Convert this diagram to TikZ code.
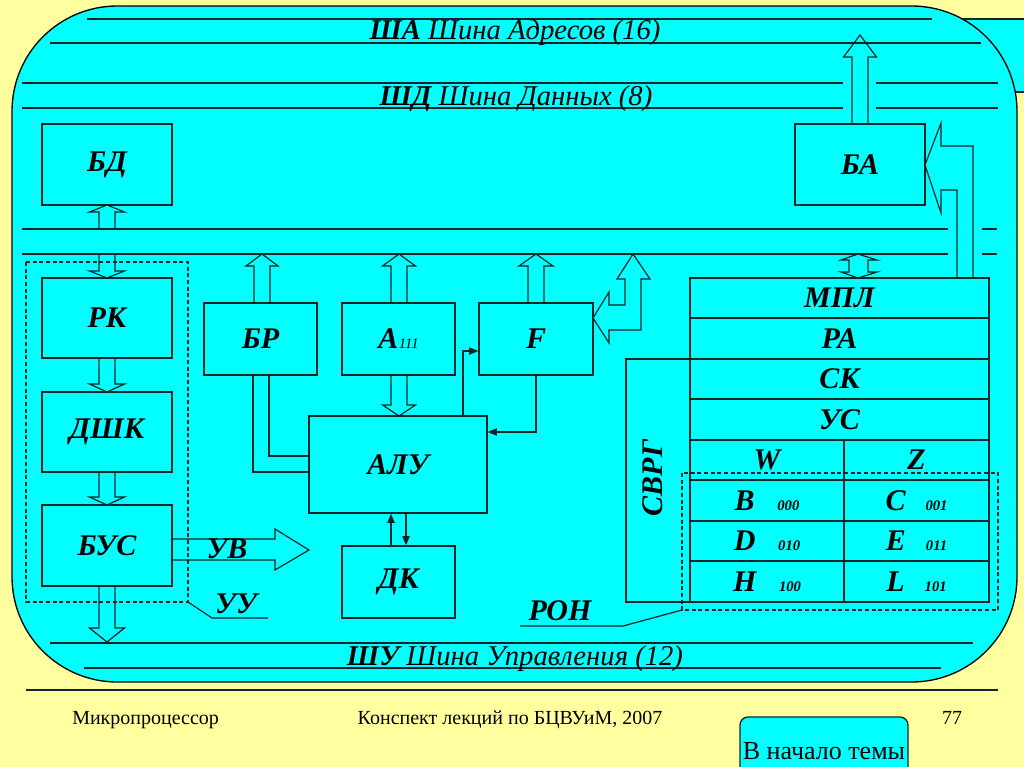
\documentclass[tikz,border=0pt]{standalone}
\usepackage{fontspec}
\setmainfont{Liberation Serif}
\usetikzlibrary{arrows.meta,calc}
\definecolor{bg}{HTML}{FFFF9F}
\definecolor{cy}{HTML}{00FFFF}
\definecolor{lc}{HTML}{0F2626}
\newcommand\lblfont{\bfseries\itshape\fontsize{22.5}{22.5}\selectfont}
\newcommand\smallnum{\bfseries\itshape\fontsize{11}{11}\selectfont}
\newcommand\bx[6]{\node[box,minimum width={(#4-#2)*0.75pt},minimum height={(#5-#3)*0.75pt}] (#1) at ({(#2+#4)/2},{(#3+#5)/2}) {#6};}
\newcommand\varrow[6]{\draw[barrow] (#1-#2,#4) -- (#1-#2,#5) -- (#1-#3,#5) -- (#1,#6) -- (#1+#3,#5) -- (#1+#2,#5) -- (#1+#2,#4);}
\begin{document}
\begin{tikzpicture}[x=0.75pt,y=-0.75pt,
  box/.style={draw=lc,line width=0.9pt,fill=cy,inner sep=0pt,font=\lblfont},
  bus/.style={draw=lc,line width=1.3pt},
  barrow/.style={draw=lc,line width=0.9pt,fill=cy,line join=miter},
  thinl/.style={draw=lc,line width=0.9pt},
  dsh/.style={draw=lc,line width=0.9pt,dash pattern=on 3pt off 2pt},
  tipa/.style={-{Triangle[length=7pt,width=5.5pt]}},
  lbl/.style={inner sep=0pt,font=\lblfont},
  title/.style={inner sep=0pt,anchor=base,font=\itshape\fontsize{21.5}{21.5}\selectfont},
  foot/.style={inner sep=0pt,anchor=base,font=\fontsize{15}{15}\selectfont}
]
\fill[bg] (0,0) rectangle (1024,767);
\useasboundingbox (0,0) rectangle (1024,767);
% right band behind the main panel
\draw[fill=cy,draw=lc,line width=1pt] (900,19) rectangle (1040,92);
% main panel
\draw[fill=cy,draw=black,line width=1pt,rounded corners=79pt] (12,6) rectangle (1017,682);

% block arrows
\varrow{860}{8}{16.5}{124}{57}{35}
\varrow{107}{8}{17.5}{229}{212}{205}
\varrow{107}{8}{17.5}{254}{271}{278}
\varrow{107}{8}{17.5}{358}{384}{392}
\varrow{107}{8}{17.5}{472}{497}{505}
\varrow{107}{8}{17.5}{586}{628}{642}
\varrow{262}{8}{16}{303}{266}{254}
\varrow{399}{8}{16.5}{303}{266}{254}
\varrow{399}{8}{16.5}{375}{405}{416}
\varrow{536}{8}{17}{303}{266}{254}
% MPL double arrow
\draw[barrow] (849,260) -- (841,260) -- (858,254) -- (877,260) -- (868,260) -- (868,272) -- (877,272) -- (858,278) -- (841,272) -- (849,272) -- cycle;
% F bent arrow
\draw[barrow] (593,318) -- (609,292) -- (609,305) -- (625,305) -- (625,279) -- (617,279) -- (633,254) -- (650,279) -- (641,279) -- (641,330) -- (609,330) -- (609,343) -- cycle;
% BA bent arrow
\draw[barrow] (925,165) -- (941,123) -- (941,146) -- (973,146) -- (973,278) -- (957,278) -- (957,190) -- (941,190) -- (941,213) -- cycle;
% UV arrow
\draw[barrow] (172,539) -- (275,539) -- (275,529) -- (309,550) -- (275,570) -- (275,560) -- (172,560);

% bus lines
\draw[bus] (87,19) -- (932,19);
\draw[bus] (50,43) -- (981,43);
\draw[bus] (22,83) -- (843,83);
\draw[bus] (876,83) -- (998,83);
\draw[bus] (22,108) -- (843,108);
\draw[bus] (876,108) -- (998,108);
\draw[bus] (22,229) -- (948,229);
\draw[bus] (982,229) -- (997,229);
\draw[bus] (22,254) -- (948,254);
\draw[bus] (982,254) -- (997,254);
\draw[bus] (50,643) -- (973,643);
\draw[bus] (84,668) -- (941,668);

\node[title] (sha) at (515,40) {\textbf{ША} Шина Адресов (16)};
\node[title] (shd) at (516,105) {\textbf{ШД} Шина Данных (8)};
\node[title] (shu) at (515,665) {\textbf{ШУ} Шина Управления (12)};

% boxes
\bx{BD}{42}{124}{172}{205}{БД}
\bx{RK}{42}{278}{172}{358}{РК}
\bx{DSK}{42}{392}{172}{472}{ДШК}
\bx{BUS}{42}{505}{172}{586}{БУС}
\bx{BR}{204}{303}{317}{375}{БР}
\bx{A}{342}{303}{455}{375}{А\kern0.5pt{\mdseries\itshape\fontsize{11}{11}\selectfont 111}}
\bx{F}{479}{303}{593}{375}{F}
\bx{ALU}{309}{416}{487}{513}{АЛУ}
\bx{DK}{342}{546}{455}{618}{ДК}
\bx{BA}{795}{124}{925}{205}{БА}
\bx{SVRG}{626}{359}{690}{602}{}
\bx{MPL}{690}{278}{989}{318}{МПЛ}
\bx{RA}{690}{318}{989}{359}{РА}
\bx{SK}{690}{359}{989}{399}{СК}
\bx{US}{690}{399}{989}{440}{УС}
\bx{W}{690}{440}{844}{480}{W}
\bx{Z}{844}{440}{989}{480}{Z}
\bx{Bc}{690}{480}{844}{521}{B\hspace{17pt}{\smallnum 000}}
\bx{Cc}{844}{480}{989}{521}{C\hspace{15pt}{\smallnum 001}}
\bx{Dc}{690}{521}{844}{561}{D\hspace{17pt}{\smallnum 010}}
\bx{Ec}{844}{521}{989}{561}{E\hspace{15pt}{\smallnum 011}}
\bx{Hc}{690}{561}{844}{602}{H\hspace{17pt}{\smallnum 100}}
\bx{Lc}{844}{561}{989}{602}{L\hspace{15pt}{\smallnum 101}}
\node[lbl,rotate=90] (svrgT) at (653,478) {СВРГ};

% thin connectors
\draw[thinl,tipa] ($(DK.north)+(-7.5,0)$) -- ($(ALU.south)+(-7,0)$);
\draw[thinl,tipa] ($(ALU.south)+(8,0)$) -- ($(DK.north)+(7.5,0)$);
\draw[thinl,tipa] ($(ALU.north)+(65,0)$) |- ($(F.west)+(0,12)$);
\draw[thinl,tipa] (F.south) |- ($(ALU.east)+(0,-32.5)$);
\draw[thinl] ($(BR.south)+(-7.5,0)$) |- ($(ALU.west)+(0,7.5)$);
\draw[thinl] ($(BR.south)+(8.5,0)$) |- ($(ALU.west)+(0,-8.5)$);

% dashed groups and callouts
\draw[dsh] (26,262) rectangle (188,602);
\coordinate (uu1) at (188,602);
\coordinate (uu2) at (212,618);
\coordinate (uu3) at (268,618);
\draw[thinl] (uu1) -- (uu2) -- (uu3);
\draw[dsh] (682,473) rectangle (998,610);
\coordinate (ron1) at (682,610);
\coordinate (ron2) at (623,626);
\coordinate (ron3) at (520,626);
\draw[thinl] (ron1) -- (ron2) -- (ron3);

\node[lbl] (uv) at (227,549) {УВ};
\node[lbl] (uu) at (236,604) {УУ};
\node[lbl] (ron) at (560,611) {РОН};

% footer
\draw[draw=lc,line width=1.3pt] (26,690) -- (998,690);
\node[foot,anchor=base west] (f1) at (72,724) {Микропроцессор};
\node[foot] (f2) at (510,724) {Конспект лекций по БЦВУиМ, 2007};
\node[foot] (f3) at (952,724) {77};
\draw[fill=cy,draw=lc,line width=1pt,rounded corners=6pt] (740,717) rectangle (908,785);
\node[inner sep=0pt,anchor=base,font=\fontsize{19.5}{19.5}\selectfont] (btn) at (824,759) {В начало темы};
\end{tikzpicture}
\end{document}
